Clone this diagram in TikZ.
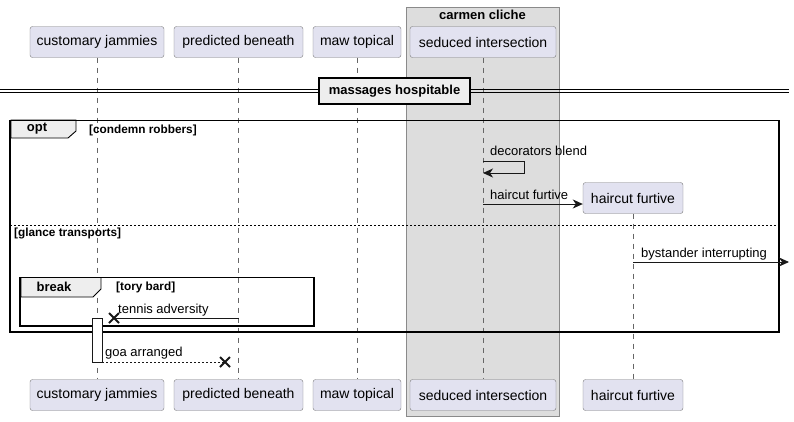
\documentclass[tikz,border=0pt]{standalone}
\usepackage{fontspec}
\setmainfont{Liberation Sans}
\usetikzlibrary{arrows.meta}
\definecolor{partfill}{HTML}{E2E2F0}
\definecolor{partdraw}{HTML}{7A7A7A}
\definecolor{grpfill}{HTML}{DDDDDD}
\definecolor{grpdraw}{HTML}{8A8A8A}
\definecolor{lifecol}{HTML}{666666}
\definecolor{tabfill}{HTML}{EEEEEE}
\definecolor{ink}{HTML}{181818}
\tikzset{
  part/.style={draw=partdraw, fill=partfill, rounded corners=2.5pt, minimum height=31pt, inner sep=0pt, font=\fontsize{14}{16}\selectfont, text=black},
  lifeline/.style={draw=lifecol, dash pattern=on 5pt off 5pt, line width=0.8pt},
  msg/.style={draw=ink, line width=0.9pt, -{Stealth[length=10pt,width=9pt,inset=3pt]}},
  retmsg/.style={draw=ink, line width=0.9pt, dash pattern=on 2pt off 2pt},
  lbl/.style={font=\fontsize{13}{15}\selectfont, anchor=west, inner sep=0pt, text=black},
  glbl/.style={font=\bfseries\fontsize{11.8}{13}\selectfont, anchor=west, inner sep=0pt, text=black},
  tablbl/.style={font=\bfseries\fontsize{13}{15}\selectfont, inner sep=0pt, text=black},
  tab/.style={draw=black, fill=tabfill, line width=0.9pt},
  frame/.style={draw=black, line width=1.6pt},
  xm/.style={draw=ink, line width=2pt},
  actbar/.style={draw=ink, fill=white, line width=0.9pt}
}
\begin{document}
\begin{tikzpicture}[x=1pt,y=-1pt]
\useasboundingbox (0,0) rectangle (794,421);
% group box
\draw[draw=grpdraw, fill=grpfill, line width=0.9pt] (406,7) rectangle (559,416);
\node[tablbl] (grp) at (482.5,15) {carmen cliche};
% participants top
\node[part, minimum width=134pt] (cjT) at (97,42) {customary jammies};
\node[part, minimum width=129pt] (pbT) at (238.5,42) {predicted beneath};
\node[part, minimum width=88pt] (mtT) at (357,42) {maw topical};
\node[part, minimum width=146pt] (siT) at (483,42) {seduced intersection};
\node[part, minimum width=100pt] (hfT) at (633,198) {haircut furtive};
% participants bottom
\node[part, minimum width=134pt] (cjB) at (97,395) {customary jammies};
\node[part, minimum width=129pt] (pbB) at (238.5,395) {predicted beneath};
\node[part, minimum width=88pt] (mtB) at (357,395) {maw topical};
\node[part, minimum width=146pt] (siB) at (483,395) {seduced intersection};
\node[part, minimum width=100pt] (hfB) at (633,395) {haircut furtive};
% lifelines
\draw[lifeline] (cjT.south) -- (cjB.north);
\draw[lifeline] (pbT.south) -- (pbB.north);
\draw[lifeline] (mtT.south) -- (mtB.north);
\draw[lifeline] (siT.south) -- (siB.north);
\draw[lifeline] (hfT.south) -- (hfB.north);
% divider
\draw[draw=black, line width=0.9pt] (0,89.5) -- (789,89.5);
\draw[draw=black, line width=0.9pt] (0,92.5) -- (789,92.5);
\node[draw=black, fill=tabfill, line width=1.5pt, minimum width=151pt, minimum height=26pt, inner sep=0pt, font=\bfseries\fontsize{13}{15}\selectfont] (div) at (394.5,91) {massages hospitable};
% opt frame
\draw[tab] (11,120) -- (76,120) -- (76,131) -- (68,138) -- (11,138) -- cycle;
\node[tablbl] (optl) at (37,129) {opt};
\draw[frame] (10,120.5) rectangle (779,332);
\node[glbl] (c1) at (89,130) {[condemn robbers]};
\draw[draw=black, line width=0.7pt, dash pattern=on 2pt off 2pt] (10,225) -- (779,225);
\node[glbl] (c2) at (14,233) {[glance transports]};
% self message
\coordinate (m1a) at (siT.south |- 0,161);
\coordinate (m1b) at (524,161);
\coordinate (m1c) at (524,173);
\coordinate (m1d) at (siT.south |- 0,173);
\draw[msg] (m1a) -- (m1b) -- (m1c) -- (m1d);
\node[lbl] (l1) at (490,151) {decorators blend};
% create message
\coordinate (m2a) at (siT.south |- 0,204);
\draw[msg] (m2a) -- (m2a -| hfT.west);
\node[lbl] (l2) at (490,195) {haircut furtive};
% bystander
\coordinate (m3a) at (hfT.south |- 0,262);
\coordinate (m3b) at (789,262);
\draw[msg] (m3a) -- (m3b);
\node[lbl] (l3) at (641,254) {bystander interrupting};
% break frame
\draw[tab] (21,277.5) -- (101,277.5) -- (101,289) -- (93,297) -- (21,297) -- cycle;
\node[tablbl] (brl) at (54,287) {break};
\draw[frame] (20,277.5) rectangle (314,326);
\node[glbl] (c3) at (116,287) {[tory bard]};
% activation
\node[actbar, minimum width=10pt, minimum height=44pt, inner sep=0pt] (act) at (97,340) {};
% tennis adversity
\coordinate (m4a) at (pbT.south |- 0,318);
\coordinate (x1) at (114,318);
\draw[draw=ink, line width=0.9pt] (m4a) -- (x1);
\draw[xm] (x1) ++(-5,-5) -- ++(10,10);
\draw[xm] (x1) ++(-5,5) -- ++(10,-10);
\node[lbl] (l4) at (118,310) {tennis adversity};
% goa arranged
\coordinate (m5a) at (act.east |- 0,362);
\coordinate (x2) at (225,362);
\draw[retmsg] (m5a) -- (x2);
\draw[xm] (x2) ++(-5,-5) -- ++(10,10);
\draw[xm] (x2) ++(-5,5) -- ++(10,-10);
\node[lbl] (l5) at (105,353) {goa arranged};
\end{tikzpicture}
\end{document}
